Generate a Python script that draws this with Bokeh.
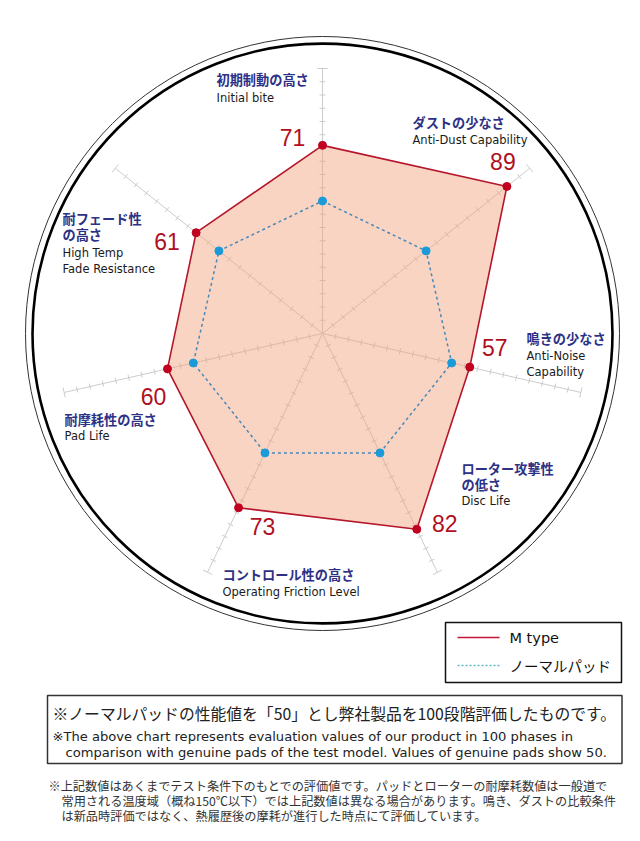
import math
from bokeh.plotting import figure
from bokeh.models import Range1d
from bokeh.core.properties import value
from bokeh.embed import file_html
from bokeh.resources import INLINE

# ---------------- data ----------------
categories_ja = ["初期制動の高さ", "ダストの少なさ", "鳴きの少なさ", "ローター攻撃性\nの低さ",
                 "コントロール性の高さ", "耐摩耗性の高さ", "耐フェード性\nの高さ"]
categories_en = ["Initial bite", "Anti-Dust Capability", "Anti-Noise\nCapability", "Disc Life",
                 "Operating Friction Level", "Pad Life", "High Temp\nFade Resistance"]
m_type = [71, 89, 57, 82, 73, 60, 61]
normal_pad = [50, 50, 50, 50, 50, 50, 50]
series_names = ["M type", "ノーマルパッド"]
scale_max = 100
tick_step = 5

note_main = "※ノーマルパッドの性能値を「50」とし弊社製品を100段階評価したものです。"
note_en = ["※The above chart represents evaluation values of our product in 100 phases in",
           "comparison with genuine pads of the test model.  Values of genuine pads show 50."]
note_foot = ["※上記数値はあくまでテスト条件下のもとでの評価値です。パッドとローターの耐摩耗数値は一般道で",
             "常用される温度域（概ね150℃以下）では上記数値は異なる場合があります。鳴き、ダストの比較条件",
             "は新品時評価ではなく、熱履歴後の摩耗が進行した時点にて評価しています。"]

# ---------------- layout (pixels, y downward) ----------------
CX, CY = 322, 333
R100 = 265.0
ja_pos = [(216, 79), (412, 122), (526, 338), (461, 468), (222, 574), (64, 419), (62, 218)]
en_pos = [(216, 97), (412, 139), (526, 355), (461, 500), (222, 591), (64, 435), (62, 252)]
ja_lh, en_lh = 15.5, 16
val_off = [(-30, -8), (-4, -25), (25, -20), (28, -6), (24, 19), (-14, 28), (-29, 9)]

N = len(categories_ja)
angles = [math.pi / 2 - 2 * math.pi * i / N for i in range(N)]


def pt(v, a):
    r = v / scale_max * R100
    return CX + r * math.cos(a), CY - r * math.sin(a)


def split_lines(labels, pos, lh):
    xs, ys, ts = [], [], []
    for lab, (x, y) in zip(labels, pos):
        for k, line in enumerate(lab.split("\n")):
            xs.append(x); ys.append(y + k * lh); ts.append(line)
    return xs, ys, ts


p = figure(width=624, height=825, x_range=Range1d(0, 624), y_range=Range1d(825, 0),
           output_backend="svg", toolbar_location=None,
           x_axis_location=None, y_axis_location=None, min_border=0)
p.grid.visible = False
p.outline_line_color = None
p.background_fill_color = "white"

# outer double circle
p.ellipse(x=[CX], y=[CY], width=[2 * 297], height=[2 * 297], fill_color=None,
          line_color="#333333", line_width=1)
p.ellipse(x=[CX], y=[CY], width=[2 * 290], height=[2 * 290], fill_color=None,
          line_color="#000000", line_width=2.6)

# spokes and ticks
gray = "#cccccc"
sx0, sy0, sx1, sy1 = [], [], [], []
tx0, ty0, tx1, ty1 = [], [], [], []
for a in angles:
    ex, ey = pt(scale_max, a)
    sx0.append(CX); sy0.append(CY); sx1.append(ex); sy1.append(ey)
    px_, py_ = -math.sin(a), -math.cos(a)
    v = tick_step
    while v <= scale_max:
        bx, by = pt(v, a)
        h = 5 if v == scale_max else 3
        tx0.append(bx - px_ * h); ty0.append(by - py_ * h)
        tx1.append(bx + px_ * h); ty1.append(by + py_ * h)
        v += tick_step
p.segment(x0=sx0, y0=sy0, x1=sx1, y1=sy1, line_color=gray, line_width=1)
p.segment(x0=tx0, y0=ty0, x1=tx1, y1=ty1, line_color=gray, line_width=1)

# M type polygon
mx = [pt(v, a)[0] for v, a in zip(m_type, angles)]
my = [pt(v, a)[1] for v, a in zip(m_type, angles)]
p.patch(mx, my, fill_color="#f2a07a", fill_alpha=0.45, line_color="#b5162b", line_width=1.6)

# normal pad polygon
nx = [pt(v, a)[0] for v, a in zip(normal_pad, angles)]
ny = [pt(v, a)[1] for v, a in zip(normal_pad, angles)]
p.line(nx + nx[:1], ny + ny[:1], line_color="#4a88b8", line_width=1.5, line_dash="3 3")
p.scatter(nx, ny, size=8, fill_color="#1a9ad8", line_color="#1a9ad8")
p.scatter(mx, my, size=8, fill_color="#c0001e", line_color="#c0001e")

# value labels
p.text(x=[x + o[0] for x, o in zip(mx, val_off)], y=[y + o[1] for y, o in zip(my, val_off)],
       text=[str(v) for v in m_type], text_font=value("Liberation Sans"),
       text_font_size="23px", text_color="#b0101e", text_align="center", text_baseline="middle")

# category labels
jx, jy, jt = split_lines(categories_ja, ja_pos, ja_lh)
p.text(x=jx, y=jy, text=jt,
       text_font=value("Noto Sans CJK JP"), text_font_size="13.2px", text_font_style="bold",
       text_color="#2d3185", text_align="left", text_baseline="middle")
ex_, ey_, et_ = split_lines(categories_en, en_pos, en_lh)
p.text(x=ex_, y=ey_, text=et_,
       text_font=value("DejaVu Sans"), text_font_size="11.5px",
       text_color="#1a1a1a", text_align="left", text_baseline="middle")

# legend box
p.quad(left=[445], right=[621], top=[622], bottom=[682], fill_color="white",
       line_color="#111111", line_width=1.5)
p.line([457, 499], [637, 637], line_color="#c0163a", line_width=1.5)
p.line([457, 499], [665, 665], line_color="#5cb6cc", line_width=1.3, line_dash="2 2")
p.text(x=[509], y=[637], text=series_names[:1],
       text_font=value("DejaVu Sans"), text_font_size="14.5px",
       text_color="#111111", text_align="left", text_baseline="middle")
p.text(x=[509], y=[665], text=series_names[1:],
       text_font=value("Noto Sans CJK JP"), text_font_size="14.5px",
       text_color="#111111", text_align="left", text_baseline="middle")

# note box
p.quad(left=[47], right=[621.5], top=[695], bottom=[763], fill_color="white",
       line_color="#333333", line_width=1.5)
p.text(x=[52], y=[713], text=[note_main], text_font=value("Noto Sans CJK JP"),
       text_font_size="15.8px", text_color="#222222", text_align="left", text_baseline="middle")
p.text(x=[52, 65], y=[736, 752], text=note_en, text_font=value("DejaVu Sans"),
       text_font_size="13.1px", text_color="#222222", text_align="left", text_baseline="middle")

# footnote
p.text(x=[48, 61, 61], y=[785, 800, 815], text=note_foot, text_font=value("Noto Sans CJK JP"),
       text_font_size="12.2px", text_color="#333333", text_align="left", text_baseline="middle")

open("out.html", "w").write(file_html(p, INLINE))
